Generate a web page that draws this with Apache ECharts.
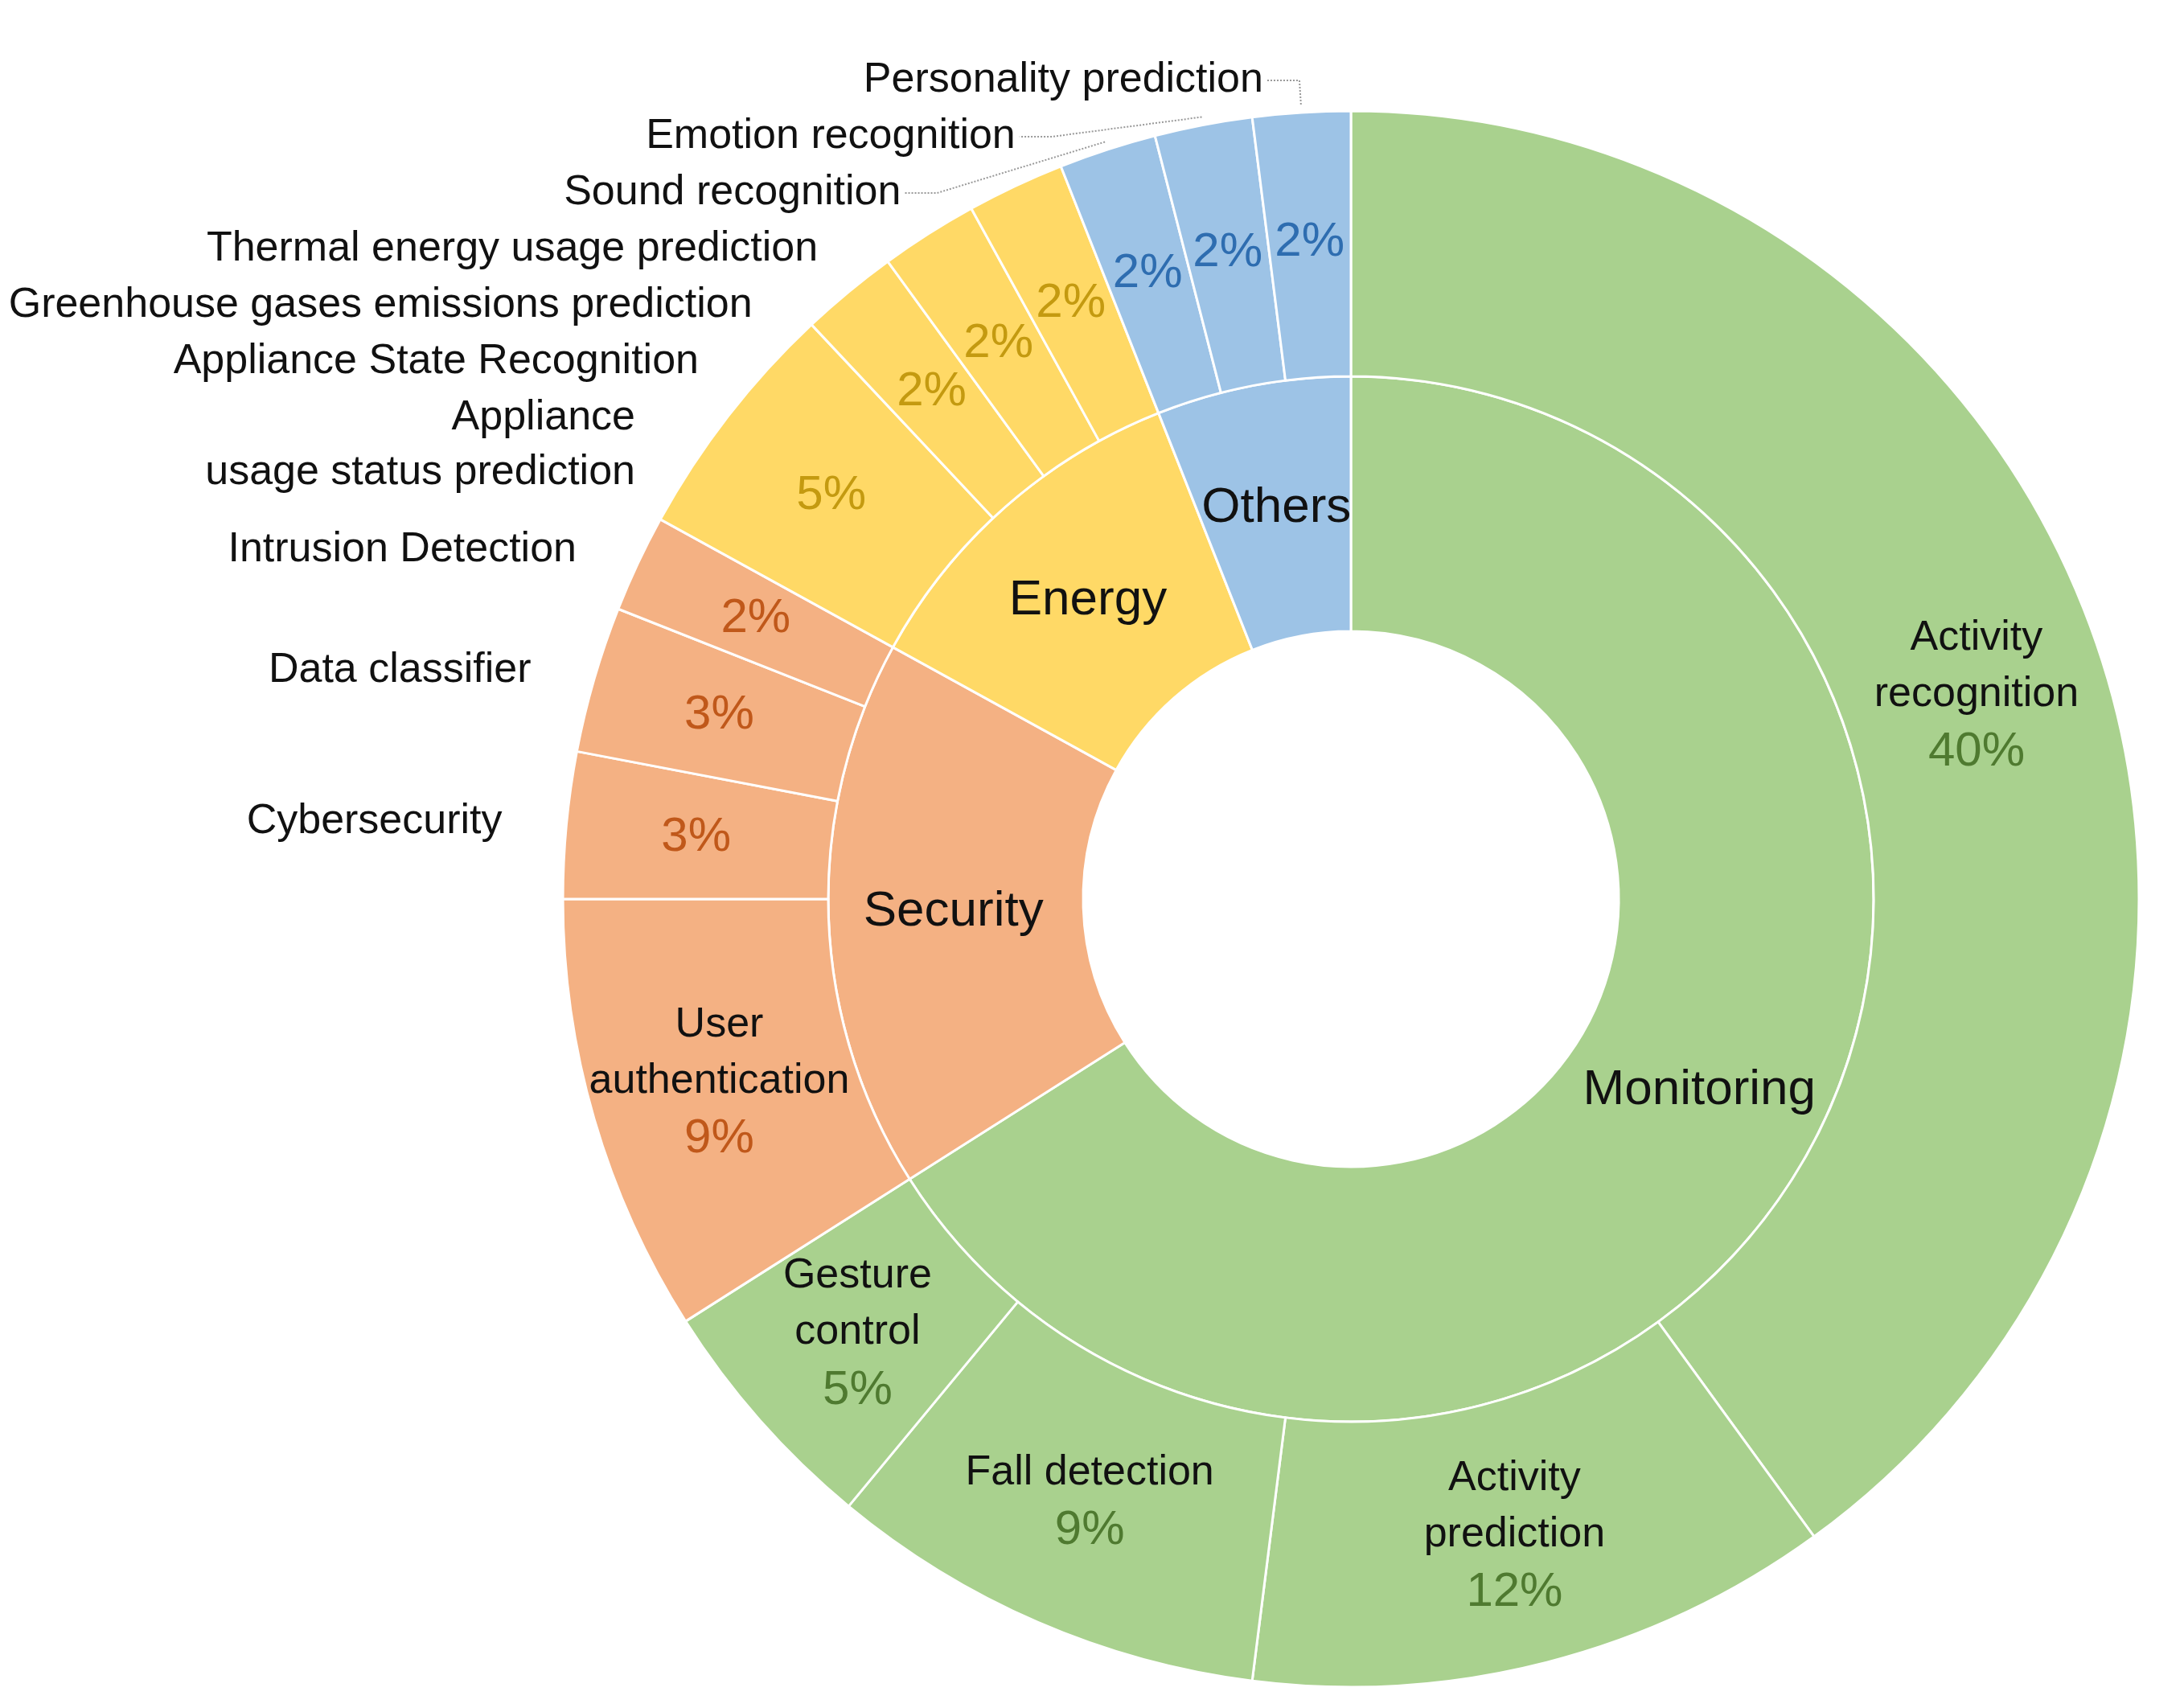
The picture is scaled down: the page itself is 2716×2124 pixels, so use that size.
<!DOCTYPE html>
<html>
<head>
<meta charset="utf-8">
<script src="https://cdn.jsdelivr.net/npm/echarts@6/dist/echarts.min.js"></script>
<style>html,body{margin:0;padding:0;background:#fff}#main{width:2716px;height:2124px}</style>
</head>
<body>
<div id="main"></div>
<script>
// groups (inner ring)
var groupNames = ['Monitoring', 'Security', 'Energy', 'Others'];
var groupValues = [66, 17, 11, 6];
var groupColors = ['#a9d18e', '#f4b183', '#ffd966', '#9dc3e6'];
var groupTextColors = ['#4f7a30', '#c0581a', '#c49a10', '#2e6db0'];

// tasks (outer ring), clockwise from top
var taskNames = ['Activity\nrecognition', 'Activity\nprediction', 'Fall detection', 'Gesture\ncontrol',
  'User\nauthentication', 'Cybersecurity', 'Data classifier', 'Intrusion Detection',
  'Appliance\nusage status prediction', 'Appliance State Recognition', 'Greenhouse gases emissions prediction', 'Thermal energy usage prediction',
  'Sound recognition', 'Emotion recognition', 'Personality prediction'];
var taskValues = [40, 12, 9, 5, 9, 3, 3, 2, 5, 2, 2, 2, 2, 2, 2];
var taskGroup = [0, 0, 0, 0, 1, 1, 1, 1, 2, 2, 2, 2, 3, 3, 3];
var nameInside = [true, true, true, true, true, false, false, false, false, false, false, false, false, false, false];

var center = [1680, 1118];
var font = 'Liberation Sans, Arial, sans-serif';

var innerData = groupNames.map(function (n, i) {
  return { name: n, value: groupValues[i], itemStyle: { color: groupColors[i] } };
});

var outerData = taskNames.map(function (n, i) {
  var g = taskGroup[i];
  return {
    name: n, value: taskValues[i],
    itemStyle: { color: groupColors[g] },
    label: {
      formatter: nameInside[i] ? '{n|{b}}\n{p|{c}%}' : '{p|{c}%}',
      rich: {
        n: { fontSize: 52, color: '#111', fontFamily: font, lineHeight: 70, align: 'center' },
        p: { fontSize: 60, color: groupTextColors[g], fontFamily: font, lineHeight: 74 }
      }
    }
  };
});

var nameData = taskNames.map(function (n, i) {
  var top = i >= 12;
  return {
    name: n, value: taskValues[i],
    label: { show: !nameInside[i] },
    labelLine: { show: top }
  };
});

var option = {
  backgroundColor: '#fff',
  series: [
    {
      type: 'pie', radius: [333, 650], center: center, startAngle: 90, clockwise: true,
      animation: false, silent: true,
      itemStyle: { borderColor: '#fff', borderWidth: 3 },
      label: { position: 'inside', fontSize: 62, color: '#111', fontFamily: font },
      labelLine: { show: false },
      data: innerData
    },
    {
      type: 'pie', radius: [650, 980], center: center, startAngle: 90, clockwise: true,
      animation: false, silent: true,
      itemStyle: { borderColor: '#fff', borderWidth: 3 },
      label: { position: 'inside' },
      labelLine: { show: false },
      data: outerData
    },
    {
      type: 'pie', radius: [650, 990], center: center, startAngle: 90, clockwise: true,
      animation: false, silent: true, z: 5,
      itemStyle: { color: 'rgba(0,0,0,0)' },
      label: { position: 'outside', fontSize: 52, color: '#111', fontFamily: font, lineHeight: 68, align: 'right' },
      labelLine: { length: 30, length2: 40, lineStyle: { color: '#999', width: 2, type: 'dotted' } },
      data: nameData
    }
  ]
};

var chart = echarts.init(document.getElementById('main'), null, { renderer: 'canvas' });
chart.setOption(option);
</script>
</body>
</html>
